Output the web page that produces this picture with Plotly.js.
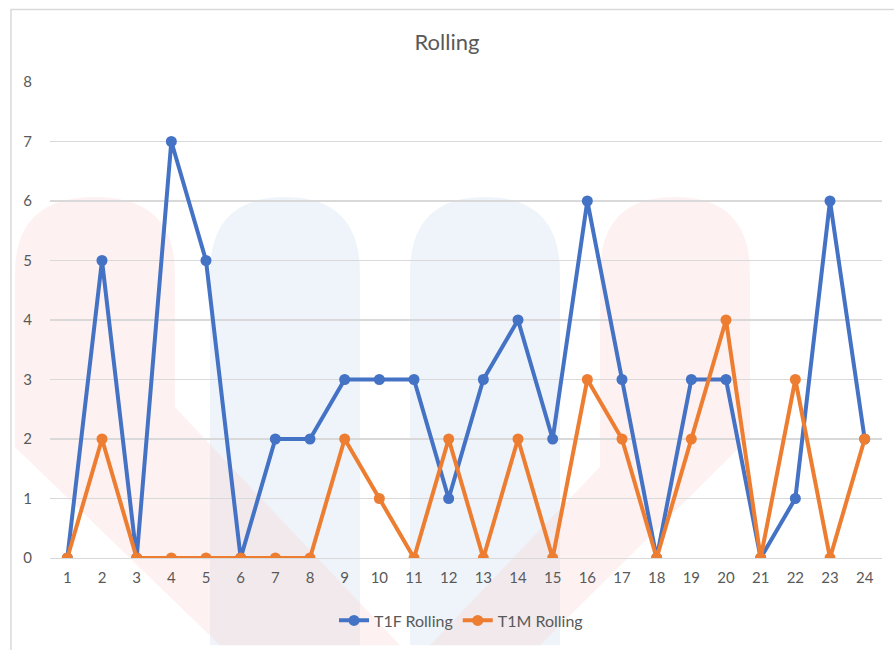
<!DOCTYPE html>
<html>
<head>
<meta charset="utf-8">
<script src="https://cdn.plot.ly/plotly-3.0.1.min.js"></script>
<style>html,body{margin:0;padding:0;background:#fff;}#chart{width:894px;height:650px;}</style>
</head>
<body>
<div id="chart"></div>
<script>
const categories = ["1","2","3","4","5","6","7","8","9","10","11","12","13","14","15","16","17","18","19","20","21","22","23","24"];
const t1fRolling = [0,5,0,7,5,0,2,2,3,3,3,1,3,4,2,6,3,0,3,3,0,1,6,2];
const t1mRolling = [0,2,0,0,0,0,0,0,2,1,0,2,0,2,0,3,2,0,2,4,0,3,0,2];
const yTicks = [0,1,2,3,4,5,6,7,8];

const W = 894, H = 650, L = 50, R = 12, T = 82, B = 88;
const pw = W - L - R, ph = H - T - B;
const px = x => ((x - L) / pw).toFixed(4);
const py = y => ((H - B - y) / ph).toFixed(4);
function path(cmds) {
  return cmds.map(c => {
    if (c[0] === 'Z') return 'Z';
    const out = [c[0]];
    for (let i = 1; i < c.length; i += 2) out.push(px(c[i]) + ',' + py(c[i + 1]));
    return out.join(' ');
  }).join(' ');
}
const red = 'rgba(250,205,205,0.28)';
const blue = 'rgba(205,222,238,0.32)';
const shapes = [
  {type:'path', xref:'paper', yref:'paper', layer:'below', line:{width:0}, fillcolor:blue,
   path: path([['M',210,275],['Q',210,198,285,198],['Q',360,198,360,275],['L',360,650],['L',210,650],['Z']])},
  {type:'path', xref:'paper', yref:'paper', layer:'below', line:{width:0}, fillcolor:blue,
   path: path([['M',410,275],['Q',410,198,485,198],['Q',560,198,560,275],['L',560,650],['L',410,650],['Z']])},
  {type:'path', xref:'paper', yref:'paper', layer:'below', line:{width:0}, fillcolor:red,
   path: path([['M',15,275],['Q',15,198,95,198],['Q',175,198,175,275],['L',175,410],['L',400,650],['L',220,650],['L',15,450],['Z']])},
  {type:'path', xref:'paper', yref:'paper', layer:'below', line:{width:0}, fillcolor:red,
   path: path([['M',600,275],['Q',600,198,675,198],['Q',750,198,750,275],['L',750,440],['L',540,650],['L',430,650],['L',600,470],['Z']])},
  {type:'rect', xref:'paper', yref:'paper', layer:'above', fillcolor:'rgba(0,0,0,0)', line:{color:'#d9d9d9', width:1.5},
   x0: px(11), x1: px(905), y0: py(660), y1: py(9)}
];

const data = [
  {x: categories, y: t1fRolling, name: 'T1F Rolling', type: 'scatter', mode: 'lines+markers',
   line: {color: '#4472C4', width: 4}, marker: {color: '#4472C4', size: 11}},
  {x: categories, y: t1mRolling, name: 'T1M Rolling', type: 'scatter', mode: 'lines+markers',
   line: {color: '#ED7D31', width: 4}, marker: {color: '#ED7D31', size: 11}}
];

const layout = {
  width: W, height: H,
  margin: {l: L, r: R, t: T, b: B, pad: 0},
  paper_bgcolor: '#ffffff', plot_bgcolor: 'rgba(0,0,0,0)',
  font: {family: 'Lato, "Liberation Sans", sans-serif', color: '#595959', size: 15},
  title: {text: 'Rolling', x: 0.5, xanchor: 'center', y: 1 - 42 / H, yanchor: 'middle',
          font: {size: 22, color: '#595959', family: 'Lato, "Liberation Sans", sans-serif'}},
  xaxis: {type: 'category', range: [-0.5, 23.5], showgrid: false, zeroline: false,
          showline: true, linecolor: '#d9d9d9', linewidth: 1.3,
          ticks: 'outside', ticklen: 6, tickcolor: 'rgba(0,0,0,0)',
          tickfont: {size: 15, color: '#595959'}, fixedrange: true},
  yaxis: {range: [0, 8], tickvals: yTicks, ticktext: yTicks.map(String),
          showgrid: true, gridcolor: '#d9d9d9', gridwidth: 1.3, zeroline: false, showline: false,
          ticks: 'outside', ticklen: 14, tickcolor: 'rgba(0,0,0,0)',
          tickfont: {size: 15, color: '#595959'}, fixedrange: true},
  showlegend: true,
  legend: {orientation: 'h', x: 0.494, xanchor: 'center', y: (H - B - 625) / ph, yanchor: 'middle',
           font: {size: 16, color: '#595959'}, bgcolor: 'rgba(0,0,0,0)', itemwidth: 30},
  shapes: shapes
};

Plotly.newPlot('chart', data, layout, {displayModeBar: false, staticPlot: true});
</script>
</body>
</html>
